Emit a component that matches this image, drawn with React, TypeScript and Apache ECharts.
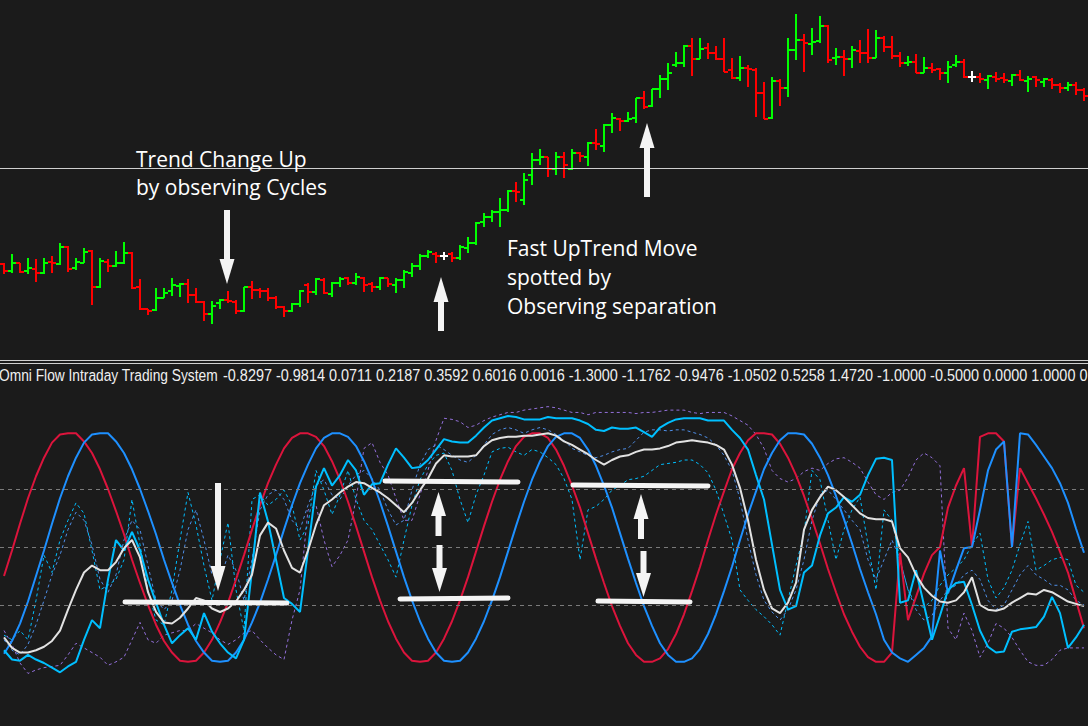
import React, { useEffect, useRef } from "react";
import * as echarts from "echarts";

// ---------- Price panel (OHLC bars) ----------
const highs = [
  137,146,137,142,141,142,144,157,154,142,
  152,150,142,141,149,158,148,121,91,112,
  112,122,117,121,112,99,99,101,109,100,
  113,119,112,112,104,94,97,110,117,122,
  122,118,123,123,127,123,118,123,122,122,
  130,137,146,150,148,148,148,155,163,178,
  187,190,202,210,218,227,247,251,243,248,
  248,251,248,258,271,276,287,282,288,302,
  309,311,325,337,348,355,362,362,357,354,
  362,342,344,335,332,318,323,321,362,386,
  366,372,384,375,352,350,354,360,371,370,
  364,364,348,344,346,343,337,332,339,345,
  341,329,327,325,328,327,326,330,324,324,
  322,322,317,318,318,312,
];
const lows = [
  126,127,127,126,118,126,127,135,128,130,
  137,95,112,128,133,136,111,90,85,89,
  102,104,103,97,97,79,76,91,97,86,
  88,101,102,99,91,83,88,93,97,105,
  106,103,113,115,115,108,108,110,113,107,
  112,123,130,142,137,140,138,140,147,155,
  173,178,173,188,198,195,215,235,223,225,
  222,230,238,234,250,248,267,269,278,277,
  291,293,302,310,333,333,324,341,341,340,
  328,321,319,313,283,281,281,294,303,340,
  328,345,357,337,335,324,332,337,337,342,
  348,341,333,334,327,327,327,320,317,333,
  322,318,317,311,318,317,314,319,308,313,
  313,311,307,309,305,299,
];
const opens = [
  136,129,137,129,131,127,138,136,153,132,
  137,149,113,138,134,137,147,113,91,90,
  102,109,114,116,105,98,86,97,100,98,
  89,113,110,109,102,93,89,96,115,108,
  120,106,117,122,117,122,116,113,122,115,
  120,127,134,144,146,144,146,142,152,157,
  178,183,188,190,209,200,225,240,243,231,
  243,231,247,243,257,254,275,281,279,282,
  302,294,311,321,335,337,354,341,352,347,
  341,330,322,332,330,307,282,319,312,350,
  360,356,359,374,342,343,341,349,347,342,
  362,353,344,337,338,327,332,331,327,335,
  338,323,323,320,323,322,319,325,319,323,
  318,320,315,312,315,310,
];
const closes = [
  129,137,128,132,127,137,137,153,131,138,
  148,113,139,134,137,147,112,91,89,102,
  107,115,116,105,98,86,94,100,99,89,
  113,110,109,102,93,89,96,109,108,121,
  107,117,121,117,123,115,113,122,116,120,
  128,134,144,148,144,144,142,153,157,177,
  183,188,190,209,208,220,240,243,231,243,
  235,247,244,257,256,275,282,279,281,302,
  293,311,321,327,337,354,341,351,347,341,
  328,322,332,331,307,281,319,312,350,360,
  357,358,374,340,343,341,350,347,342,362,
  353,344,337,338,327,332,330,327,333,338,
  323,323,321,324,321,320,325,320,321,320,
  321,315,312,315,310,304,
];
const trendLineLevel = 232;

// ---------- Indicator panel ----------
const cycleRed = [
  -0.25,-0.03,0.20,0.42,0.61,0.77,0.90,0.97,0.98,0.98,
  0.91,0.81,0.67,0.50,0.31,0.11,-0.11,-0.31,-0.50,-0.67,
  -0.81,-0.91,-0.98,-0.99,-0.98,-0.91,-0.80,-0.65,-0.48,-0.28,
  -0.07,0.15,0.36,0.55,0.71,0.85,0.94,0.98,0.98,0.95,
  0.87,0.74,0.58,0.39,0.18,-0.04,-0.26,-0.46,-0.64,-0.79,
  -0.91,-0.98,-0.99,-0.98,-0.91,-0.79,-0.64,-0.46,-0.26,-0.04,
  0.18,0.39,0.58,0.74,0.87,0.95,0.98,0.98,0.94,0.84,
  0.70,0.53,0.34,0.12,-0.10,-0.31,-0.51,-0.68,-0.83,-0.93,
  -0.99,-0.99,-0.96,-0.88,-0.75,-0.58,-0.38,-0.17,0.06,0.28,
  0.48,0.67,0.81,0.92,0.98,0.98,0.97,0.89,0.77,0.62,
  0.44,0.24,0.03,-0.19,-0.39,-0.58,-0.73,-0.86,-0.95,-0.99,
  -0.99,-0.91,-0.05,-0.63,-0.43,-0.23,-0.07,0.00,0.34,0.53,
  0.68,0.00,0.95,0.98,0.98,0.91,0.00,0.68,0.55,0.42,
  0.28,0.13,-0.04,-0.22,-0.46,-0.70,
];
const cycleBlue = [
  -0.92,-0.81,-0.66,-0.47,-0.25,-0.03,0.20,0.42,0.61,0.77,
  0.90,0.97,0.98,0.98,0.91,0.81,0.67,0.50,0.31,0.11,
  -0.11,-0.31,-0.50,-0.67,-0.81,-0.91,-0.98,-0.99,-0.98,-0.91,
  -0.80,-0.65,-0.48,-0.28,-0.07,0.15,0.36,0.55,0.71,0.85,
  0.94,0.98,0.98,0.95,0.87,0.74,0.58,0.39,0.18,-0.04,
  -0.26,-0.46,-0.64,-0.79,-0.91,-0.98,-0.99,-0.98,-0.91,-0.79,
  -0.64,-0.46,-0.26,-0.04,0.18,0.39,0.58,0.74,0.87,0.95,
  0.98,0.98,0.94,0.84,0.70,0.53,0.34,0.12,-0.10,-0.31,
  -0.51,-0.68,-0.83,-0.93,-0.99,-0.99,-0.96,-0.88,-0.75,-0.58,
  -0.38,-0.17,0.06,0.28,0.48,0.67,0.81,0.92,0.98,0.98,
  0.97,0.89,0.77,0.62,0.44,0.24,0.03,-0.19,-0.39,-0.58,
  -0.80,-0.91,-0.96,-0.99,-0.93,-0.87,-0.77,-0.03,-0.40,-0.20,
  -0.01,0.00,0.32,0.66,0.84,0.91,0.00,0.98,0.97,0.88,
  0.78,0.68,0.55,0.38,0.16,-0.05,
];
const flowCyan = [
  -0.89,-0.97,-0.98,-0.93,-0.97,-1.00,-1.04,-1.08,-1.03,-0.99,
  -0.80,-0.63,-0.70,-0.28,0.06,-0.03,0.13,-0.03,-0.28,-0.48,
  -0.67,-0.83,-0.76,-0.70,-0.80,-0.57,-0.73,-0.83,-0.91,-0.96,
  -0.80,-0.20,0.47,0.22,-0.11,-0.44,-0.49,-0.56,-0.03,0.52,
  0.68,0.53,0.62,0.75,0.66,0.45,0.54,0.55,0.71,0.85,
  0.77,0.68,0.69,0.75,0.84,0.93,0.91,0.90,0.90,0.96,
  1.03,1.09,1.11,1.13,1.12,1.10,1.10,1.10,1.12,1.11,
  1.11,1.11,1.09,1.06,1.01,1.00,1.03,1.02,1.02,1.03,
  0.99,0.95,1.03,1.07,1.10,1.11,1.11,1.11,1.09,1.09,
  1.09,1.01,0.94,0.84,0.62,0.41,0.02,-0.37,-0.54,-0.51,
  -0.22,-0.16,0.10,0.29,0.34,0.43,0.39,0.45,0.62,0.76,
  0.77,0.75,-0.48,-0.46,-0.20,-0.50,-0.80,-0.59,-0.37,-0.31,
  -0.30,-0.50,-0.72,-0.86,-0.91,-0.90,-0.73,-0.71,-0.70,-0.69,
  -0.60,-0.43,-0.57,-0.87,-0.78,-0.67,
];
const flowSmooth = [
  -0.78,-0.87,-0.91,-0.91,-0.89,-0.86,-0.81,-0.72,-0.54,-0.37,
  -0.22,-0.16,-0.20,-0.20,-0.13,-0.01,0.06,-0.09,-0.39,-0.56,
  -0.65,-0.66,-0.61,-0.53,-0.44,-0.46,-0.53,-0.56,-0.53,-0.47,
  -0.37,-0.24,0.10,0.21,0.16,-0.03,-0.18,-0.22,-0.03,0.19,
  0.36,0.41,0.47,0.52,0.56,0.55,0.51,0.47,0.42,0.36,
  0.30,0.38,0.49,0.59,0.72,0.79,0.78,0.78,0.78,0.79,
  0.87,0.92,0.94,0.95,0.95,0.96,0.96,0.97,0.98,0.96,
  0.91,0.88,0.84,0.80,0.75,0.71,0.75,0.78,0.79,0.82,
  0.84,0.84,0.85,0.87,0.90,0.91,0.92,0.91,0.90,0.88,
  0.84,0.71,0.51,0.23,-0.11,-0.37,-0.53,-0.57,-0.48,-0.31,
  0.15,0.32,0.43,0.52,0.49,0.43,0.36,0.29,0.25,0.24,
  0.24,0.22,-0.01,-0.09,-0.24,-0.35,-0.42,-0.47,-0.48,-0.46,
  -0.39,-0.26,-0.50,-0.54,-0.55,-0.53,-0.48,-0.44,-0.40,-0.41,
  -0.37,-0.39,-0.43,-0.47,-0.49,-0.51,
];
const dashPurple = [
  -0.72,-0.84,-1.00,-1.09,-1.06,-1.04,-1.03,-1.02,-0.93,-0.83,
  -0.87,-0.91,-0.95,-1.02,-0.99,-0.95,-0.80,-0.65,-0.80,-0.83,
  -0.76,-0.74,-0.72,-0.72,-0.66,-0.70,-0.74,-0.80,-0.84,-0.80,
  -0.74,-0.72,-0.80,-0.87,-0.93,-0.97,-0.63,-0.37,0.32,0.36,
  0.06,-0.17,-0.07,0.06,0.41,0.85,0.90,0.73,0.62,0.42,
  0.23,0.23,0.45,0.66,0.92,1.11,1.10,1.08,1.03,1.05,
  1.09,1.12,1.14,1.16,1.16,1.18,1.19,1.20,1.21,1.20,
  1.18,1.16,1.16,1.14,1.16,1.16,1.16,1.16,1.16,1.15,
  1.16,1.16,1.17,1.18,1.18,1.18,1.16,1.15,1.16,1.16,
  1.16,1.13,1.09,1.05,0.97,0.85,0.66,0.59,0.56,0.59,
  0.65,0.68,0.66,0.72,0.76,0.77,0.73,0.68,0.56,0.45,
  0.41,0.47,0.49,0.60,0.75,0.81,0.77,0.70,-0.70,-0.80,
  -0.57,-0.72,-0.95,-0.83,-0.66,-0.70,-0.78,-0.89,-0.99,-1.02,
  -1.02,-0.97,-0.89,-0.87,-0.87,-0.87,
];
const dashCyan = [
  -0.76,-0.80,-0.72,-0.80,-0.46,-0.07,-0.22,0.06,0.23,0.38,
  0.29,-0.03,-0.37,-0.33,-0.28,-0.11,0.41,0.02,-0.37,-0.63,
  -0.67,-0.37,0.06,0.47,0.19,-0.16,-0.46,-0.11,0.21,-0.37,
  -0.72,0.41,0.45,0.36,0.41,0.49,0.36,0.06,0.19,0.66,
  0.49,0.28,0.45,0.66,0.41,0.23,0.15,0.02,-0.11,-0.26,
  0.06,0.36,0.58,0.71,0.79,0.81,0.66,0.41,0.21,0.45,
  0.62,0.82,0.85,0.86,0.82,0.79,0.84,0.82,0.77,0.71,
  0.59,0.41,-0.11,0.32,0.35,0.41,0.49,0.53,0.58,0.59,
  0.61,0.66,0.71,0.72,0.73,0.75,0.75,0.71,0.64,0.49,
  0.28,0.06,-0.37,-0.46,-0.54,-0.60,-0.67,-0.76,-0.46,-0.16,
  0.12,0.66,0.58,0.23,-0.11,0.15,0.32,0.43,0.02,-0.37,
  0.32,0.23,-0.11,-0.37,-0.50,-0.52,-0.46,-0.33,-0.24,-0.18,
  -0.11,0.02,0.12,-0.28,-0.44,-0.35,-0.20,0.02,0.22,-0.20,
  -0.16,-0.11,-0.09,-0.11,-0.33,-0.39,
];
const dashBlue = [
  -0.80,-0.89,-0.93,-0.84,-0.67,-0.46,-0.24,-0.07,0.15,0.30,
  0.23,0.02,-0.28,-0.39,-0.24,0.06,0.23,0.15,-0.16,-0.46,
  -0.54,-0.46,-0.20,0.15,0.32,0.06,-0.24,-0.28,-0.07,-0.20,
  -0.46,-0.11,0.32,0.45,0.49,0.41,0.23,0.15,0.36,0.53,
  0.58,0.45,0.41,0.53,0.62,0.66,0.59,0.49,0.32,0.19,
  0.23,0.49,0.71,0.84,0.88,0.84,0.79,0.75,0.73,0.79,
  0.88,0.97,1.01,1.03,1.01,0.98,1.01,1.03,1.01,0.97,
  0.92,0.85,0.82,0.79,0.77,0.79,0.82,0.84,0.85,0.92,
  0.99,1.01,1.01,1.00,1.01,1.01,0.99,0.97,0.94,0.88,
  0.79,0.66,0.41,0.06,-0.24,-0.46,-0.56,-0.63,-0.54,-0.37,
  -0.11,0.23,0.45,0.49,0.41,0.32,0.23,0.15,-0.11,-0.28,
  -0.11,0.06,-0.11,-0.37,-0.54,-0.63,-0.59,-0.46,-0.37,-0.33,
  -0.24,-0.20,-0.28,-0.46,-0.54,-0.50,-0.37,-0.24,-0.16,-0.24,
  -0.28,-0.33,-0.33,-0.37,-0.46,-0.50,
];
const levelLines = [0.5, 0, -0.5];
const bars = highs.map((_, i) => String(i + 1));

const titleName = "Omni Flow Intraday Trading System";
const titleValues =
  "-0.8297 -0.9814 0.0711 0.2187 0.3592 0.6016 0.0016 -1.3000 -1.1762 -0.9476 -1.0502 0.5258 1.4720 -1.0000 -0.5000 0.0000 1.0000 0";

const WHITE = "#f4f4f4";

function arrow(cx: number, tipY: number, baseY: number, tailY: number) {
  return [
    {
      type: "rect",
      z: 100,
      shape: { x: cx - 3, y: Math.min(baseY, tailY), width: 6, height: Math.abs(tailY - baseY) },
      style: { fill: WHITE },
    },
    {
      type: "polygon",
      z: 100,
      shape: { points: [[cx - 7.5, baseY], [cx + 7.5, baseY], [cx, tipY]] },
      style: { fill: WHITE },
    },
  ];
}

function hbar(x1: number, y1: number, x2: number, y2: number) {
  return {
    type: "line",
    z: 100,
    shape: { x1, y1, x2, y2 },
    style: { stroke: WHITE, lineWidth: 5, lineCap: "round" },
  };
}

function label(text: string, x: number, y: number) {
  return {
    type: "text",
    z: 100,
    x,
    y,
    style: {
      text,
      fill: "#ffffff",
      font: '21px "Open Sans"',
      textVerticalAlign: "middle",
      verticalAlign: "middle",
    },
  };
}

function titlePart(text: string, x: number, scaleX: number) {
  return {
    type: "text",
    z: 100,
    x,
    y: 375,
    scaleX,
    style: {
      text,
      fill: "#f0f0f0",
      font: '17px "Liberation Sans"',
      textVerticalAlign: "middle",
      verticalAlign: "middle",
    },
  };
}

export default function App() {
  const ref = useRef<HTMLDivElement>(null);

  useEffect(() => {
    const chart = echarts.init(ref.current as HTMLDivElement, null, { renderer: "svg" });

    const ohlc = opens.map((o, i) => [i, o, closes[i], lows[i], highs[i]]);

    const lineSeries = (name: string, data: number[], color: string, width: number, dashed: boolean) => ({
      name,
      type: "line",
      xAxisIndex: 1,
      yAxisIndex: 1,
      data,
      symbol: "none",
      showSymbol: false,
      silent: true,
      lineStyle: { color, width, type: dashed ? [3, 3] : "solid" },
    });

    const option: any = {
      backgroundColor: "#1b1b1b",
      animation: false,
      grid: [
        { left: 0, right: 0, top: 0, height: 360 },
        { left: 0, right: 0, top: 373, height: 348 },
      ],
      xAxis: [
        { type: "category", gridIndex: 0, data: bars, show: false, boundaryGap: true },
        { type: "category", gridIndex: 1, data: bars, show: false, boundaryGap: true },
      ],
      yAxis: [
        { type: "value", gridIndex: 0, min: 40, max: 400, show: false, splitLine: { show: false } },
        { type: "value", gridIndex: 1, min: -1.5, max: 1.5, show: false, splitLine: { show: false } },
      ],
      series: [
        {
          name: "Trend line",
          type: "line",
          xAxisIndex: 0,
          yAxisIndex: 0,
          data: closes,
          symbol: "none",
          silent: true,
          lineStyle: { opacity: 0 },
          markLine: {
            silent: true,
            symbol: ["none", "none"],
            label: { show: false },
            lineStyle: { color: "#cfcfcf", width: 1, type: "solid" },
            data: [{ yAxis: trendLineLevel }],
          },
        },
        {
          name: "Price",
          type: "custom",
          xAxisIndex: 0,
          yAxisIndex: 0,
          data: ohlc,
          encode: { x: 0, y: [1, 2, 3, 4] },
          renderItem: (params: any, api: any) => {
            const i = api.value(0);
            const o = api.value(1);
            const c = api.value(2);
            const l = api.value(3);
            const h = api.value(4);
            const top = api.coord([i, h]);
            const bot = api.coord([i, l]);
            const po = api.coord([i, o]);
            const pc = api.coord([i, c]);
            const color = c > o ? "#00ff00" : c < o ? "#ff0000" : "#ffffff";
            const x = Math.round(top[0]);
            const st = { stroke: color, lineWidth: 2 };
            return {
              type: "group",
              children: [
                { type: "line", shape: { x1: x, y1: top[1], x2: x, y2: bot[1] }, style: st },
                { type: "line", shape: { x1: x - 4, y1: po[1], x2: x, y2: po[1] }, style: st },
                { type: "line", shape: { x1: x, y1: pc[1], x2: x + 4, y2: pc[1] }, style: st },
              ],
            };
          },
        },
        {
          ...lineSeries("Dash purple", dashPurple, "#9370db", 1, true),
          markLine: {
            silent: true,
            symbol: ["none", "none"],
            label: { show: false },
            lineStyle: { color: "#7a7a7a", width: 1, type: [4, 4] },
            data: levelLines.map((v) => ({ yAxis: v })),
          },
        },
        lineSeries("Dash blue", dashBlue, "#4f8fe8", 1, true),
        lineSeries("Dash cyan", dashCyan, "#00bfff", 1, true),
        lineSeries("Cycle red", cycleRed, "#dc143c", 2, false),
        lineSeries("Cycle blue", cycleBlue, "#1e90ff", 2, false),
        lineSeries("Flow", flowCyan, "#00bfff", 2, false),
        lineSeries("Flow smooth", flowSmooth, "#e2e2e2", 2, false),
      ],
      graphic: [
        { type: "line", z: 100, shape: { x1: 0, y1: 360.5, x2: 1088, y2: 360.5 }, style: { stroke: "#cfcfcf", lineWidth: 1 } },
        { type: "line", z: 100, shape: { x1: 0, y1: 363.5, x2: 1088, y2: 363.5 }, style: { stroke: "#cfcfcf", lineWidth: 1 } },
        titlePart(titleName, -1, 0.81),
        titlePart(titleValues, 223, 0.85),
        label("Trend Change Up", 136, 159),
        label("by observing Cycles", 136, 187),
        label("Fast UpTrend Move", 507, 248),
        label("spotted by", 507, 277),
        label("Observing separation", 507, 306),
        ...arrow(227, 284, 259, 210),
        ...arrow(441, 277, 302, 331),
        ...arrow(647, 123, 148, 197),
        ...arrow(218, 591, 566, 483),
        ...arrow(438.5, 492, 516, 536),
        ...arrow(439.5, 592, 568, 545),
        ...arrow(641, 494, 519, 539),
        ...arrow(643.5, 597, 573, 551),
        hbar(125, 602, 287, 603),
        hbar(385, 481, 518, 482),
        hbar(400, 599, 508, 598),
        hbar(573, 485, 708, 486),
        hbar(598, 601, 690, 602),
      ],
    };

    chart.setOption(option);
    return () => chart.dispose();
  }, []);

  return (
    <div
      ref={ref}
      style={{ position: "fixed", left: 0, top: 0, width: 1088, height: 726, background: "#1b1b1b" }}
    />
  );
}
